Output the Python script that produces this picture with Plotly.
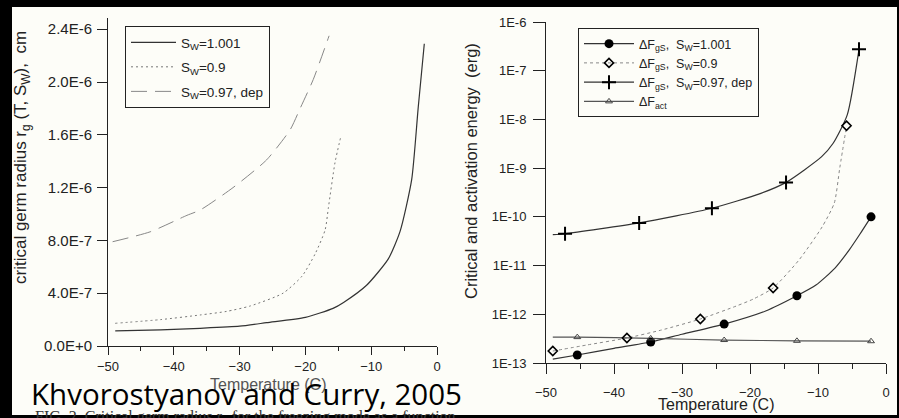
import plotly.graph_objects as go

W, H = 899, 418

# ---------------- Left panel data (critical germ radius, cm) ----------------
T_sw1001 = [-48.9, -42, -36, -30, -25.9, -20, -15.8, -14.2, -10.7, -7.4, -5.6, -3.85, -2.85, -1.93]
r_sw1001 = [1.14e-7, 1.22e-7, 1.34e-7, 1.5e-7, 1.77e-7, 2.17e-7, 2.85e-7, 3.3e-7, 4.6e-7, 6.6e-7,
            8.7e-7, 1.26e-6, 1.81e-6, 2.29e-6]

T_sw09 = [-48.9, -42, -36, -32, -28.4, -23.4, -20.5, -18.5, -17, -16.5, -15.5, -14.6]
r_sw09 = [1.72e-7, 2.0e-7, 2.35e-7, 2.62e-7, 3.03e-7, 4.0e-7, 5.3e-7, 7.0e-7, 8.8e-7, 1.05e-6,
          1.39e-6, 1.59e-6]

T_sw097 = [-49.3, -43.6, -38, -36, -31, -25.9, -22.3, -20.8, -18.8, -16.4]
r_sw097 = [7.9e-7, 8.65e-7, 9.9e-7, 1.03e-6, 1.2e-6, 1.41e-6, 1.64e-6, 1.8e-6, 2.02e-6, 2.35e-6]

left_yticks = [0, 4e-7, 8e-7, 1.2e-6, 1.6e-6, 2.0e-6, 2.4e-6]
left_yticktext = ["0.0E+0", "4.0E-7", "8.0E-7", "1.2E-6", "1.6E-6", "2.0E-6", "2.4E-6"]
x_ticks = [-50, -40, -30, -20, -10, 0]
x_minor = [-45, -35, -25, -15, -5]

# ---------------- Right panel data (energies, erg) ----------------
T_c1001 = [-49, -45.4, -40, -34.6, -30, -23.8, -17.7, -13.1, -10.3, -7.5, -5.4, -3.8, -2.2]
E_c1001 = [1.2e-13, 1.46e-13, 2.0e-13, 2.7e-13, 3.9e-13, 6.3e-13, 1.17e-12, 2.4e-12, 3.98e-12,
           8.9e-12, 2.1e-11, 4.5e-11, 1.0e-10]
Tm_c1001 = [-45.4, -34.6, -23.8, -13.1, -2.2]
Em_c1001 = [1.46e-13, 2.7e-13, 6.3e-13, 2.4e-12, 1.0e-10]

T_d09 = [-49, -44, -38.1, -33, -27.3, -22, -19.5, -16.6, -12.8, -9.4, -7.6, -6.8, -5.8]
E_d09 = [1.76e-13, 2.34e-13, 3.26e-13, 4.76e-13, 8.0e-13, 1.48e-12, 2.06e-12, 3.47e-12, 1.3e-11,
         6.2e-11, 1.93e-10, 1.01e-9, 7.4e-9]
Tm_d09 = [-49, -38.1, -27.3, -16.6, -5.8]
Em_d09 = [1.76e-13, 3.26e-13, 8.0e-13, 3.47e-12, 7.4e-9]

T_p097 = [-49, -47.2, -36.3, -25.6, -18.5, -14.7, -9.5, -7.8, -5.7, -3.97]
E_p097 = [4.3e-11, 4.5e-11, 7.5e-11, 1.5e-10, 3.0e-10, 5.1e-10, 1.7e-9, 3.2e-9, 1.24e-8, 2.75e-7]
Tm_p097 = [-47.2, -36.3, -25.6, -14.7, -3.97]
Em_p097 = [4.5e-11, 7.5e-11, 1.5e-10, 5.1e-10, 2.75e-7]

T_act = [-49, -45.4, -34.6, -23.8, -13.1, -2.2]
E_act = [3.4e-13, 3.4e-13, 3.2e-13, 2.96e-13, 2.85e-13, 2.8e-13]
Tm_act = [-45.4, -34.6, -23.8, -13.1, -2.2]
Em_act = [3.4e-13, 3.2e-13, 2.96e-13, 2.85e-13, 2.8e-13]

right_yticks = [1e-13, 1e-12, 1e-11, 1e-10, 1e-9, 1e-8, 1e-7, 1e-6]
right_yticktext = ["1E-13", "1E-12", "1E-11", "1E-10", "1E-9", "1E-8", "1E-7", "1E-6"]

# ---------------- helpers ----------------
def px(x):
    return x / W

def py(y):
    return 1 - y / H

INK = "#222222"
BG = "#FDFDF8"
FONT = "Liberation Sans, Arial, sans-serif"

fig = go.Figure()

# Left panel traces
left_specs = [
    (T_sw1001, r_sw1001, "S<sub>W</sub>=1.001", dict(color="#333333", width=1.2), "a"),
    (T_sw09, r_sw09, "S<sub>W</sub>=0.9", dict(color="#777777", width=1, dash="2px,3px"), "b"),
    (T_sw097, r_sw097, "S<sub>W</sub>=0.97, dep", dict(color="#888888", width=1, dash="16px,8px"), "c"),
]
for tx, ry, nm, ln, g in left_specs:
    fig.add_trace(go.Scatter(x=tx, y=ry, mode="lines", name=nm,
                             line=dict(shape="spline", smoothing=0.6, **ln), xaxis="x", yaxis="y",
                             legend="legend", legendgroup=g))

# Right panel: lines
line_specs = [
    (T_c1001, E_c1001, dict(color="#333333", width=1.2)),
    (T_d09, E_d09, dict(color="#888888", width=1, dash="3px,3px")),
    (T_p097, E_p097, dict(color="#333333", width=1.2)),
    (T_act, E_act, dict(color="#555555", width=1.2)),
]
for tx, ey, ln in line_specs:
    fig.add_trace(go.Scatter(x=tx, y=ey, mode="lines", line=dict(shape="spline", smoothing=0.6, **ln),
                             showlegend=False, xaxis="x2", yaxis="y2", hoverinfo="skip"))

marker_specs = [
    (Tm_c1001, Em_c1001, dict(symbol="circle", size=9, color="black"),
     dict(color="#333333", width=1.2), "ΔF<sub>gS</sub>,  S<sub>W</sub>=1.001"),
    (Tm_d09, Em_d09, dict(symbol="diamond-open", size=7, color="black", line=dict(width=1.6)),
     dict(color="#888888", width=1, dash="3px,3px"), "ΔF<sub>gS</sub>,  S<sub>W</sub>=0.9"),
    (Tm_p097, Em_p097, dict(symbol="cross-thin", size=10, color="black", line=dict(width=2, color="black")),
     dict(color="#333333", width=1.2), "ΔF<sub>gS</sub>,  S<sub>W</sub>=0.97, dep"),
    (Tm_act, Em_act, dict(symbol="triangle-up-open", size=6, color="#444444", line=dict(width=1)),
     dict(color="#555555", width=1.2), "ΔF<sub>act</sub>"),
]
for tx, ey, mk, ln, nm in marker_specs:
    fig.add_trace(go.Scatter(x=tx, y=ey, mode="markers", marker=mk, showlegend=False,
                             xaxis="x2", yaxis="y2"))
for tx, ey, mk, ln, nm in marker_specs:
    fig.add_trace(go.Scatter(x=[None], y=[None], mode="lines+markers", marker=mk, line=ln, name=nm,
                             xaxis="x2", yaxis="y2", legend="legend2"))

axis_common = dict(showline=True, linecolor=INK, linewidth=1, ticks="outside", tickcolor=INK,
                   tickwidth=1, showgrid=False, zeroline=False, mirror=False, automargin=False)

fig.update_layout(
    width=W, height=H,
    margin=dict(l=0, r=0, t=0, b=0, pad=0, autoexpand=False),
    paper_bgcolor="black",
    plot_bgcolor="rgba(0,0,0,0)",
    showlegend=True,
    font=dict(family=FONT, color=INK, size=13),
    xaxis=dict(domain=[px(108), px(437)], range=[-50, 0], anchor="y", tickmode="array",
               tickvals=x_ticks, ticklen=8, ticklabelstandoff=0,
               tickfont=dict(family=FONT, size=13, color=INK),
               minor=dict(tickvals=x_minor, ticklen=4, ticks="outside", tickcolor=INK, tickwidth=1),
               **axis_common),
    yaxis=dict(domain=[py(346), py(18)], range=[0, 2.485e-6], anchor="x", tickmode="array",
               tickvals=left_yticks, ticktext=left_yticktext, ticklen=10, ticklabelstandoff=2,
               tickfont=dict(family=FONT, size=15, color=INK), **axis_common),
    xaxis2=dict(domain=[px(546), px(886)], range=[-50, 0], anchor="y2", tickmode="array",
                tickvals=x_ticks, ticklen=10, ticklabelstandoff=7,
                tickfont=dict(family=FONT, size=13, color=INK),
                minor=dict(tickvals=x_minor, ticklen=5, ticks="outside", tickcolor=INK, tickwidth=1),
                **axis_common),
    yaxis2=dict(domain=[py(363), py(22)], type="log", range=[-13, -6], anchor="x2", tickmode="array",
                tickvals=right_yticks, ticktext=right_yticktext, ticklen=12, ticklabelstandoff=4,
                tickfont=dict(family=FONT, size=13, color=INK), **axis_common),
    legend=dict(x=px(125), y=py(26), xanchor="left", yanchor="top", bgcolor=BG,
                bordercolor=INK, borderwidth=1, traceorder="grouped", tracegroupgap=4,
                itemwidth=45, font=dict(family=FONT, size=13.5, color=INK)),
    legend2=dict(x=px(578), y=py(28), xanchor="left", yanchor="top", bgcolor=BG, itemwidth=50,
                 bordercolor=INK, borderwidth=1, tracegroupgap=0,
                 font=dict(family=FONT, size=12.5, color=INK)),
    shapes=[dict(type="rect", xref="paper", yref="paper", x0=px(12), x1=px(897), y0=py(415), y1=py(7),
                 fillcolor=BG, line=dict(width=0), layer="below")],
    annotations=[
        dict(text="critical germ radius r<sub>g</sub> (T, S<sub>W</sub>),  cm", textangle=-90,
             x=px(22), y=py(158), xref="paper", yref="paper", showarrow=False,
             xanchor="center", yanchor="middle", font=dict(family=FONT, size=17, color=INK)),
        dict(text="Critical and activation energy  (erg)", textangle=-90,
             x=px(471), y=py(171), xref="paper", yref="paper", showarrow=False,
             xanchor="center", yanchor="middle", font=dict(family=FONT, size=16.5, color=INK)),
        dict(text="Temperature (C)", x=px(716), y=py(404), xref="paper", yref="paper",
             showarrow=False, xanchor="center", yanchor="middle",
             font=dict(family=FONT, size=16, color=INK)),
        dict(text="Temperature (C)", x=px(268), y=py(384), xref="paper", yref="paper",
             showarrow=False, xanchor="center", yanchor="middle",
             font=dict(family=FONT, size=16, color="#555555")),
        dict(text="FIG. 2. Critical germ radius r<sub>g</sub> for the freezing mode as a function",
             x=px(33), y=py(406), xref="paper", yref="paper", showarrow=False,
             xanchor="left", yanchor="top",
             font=dict(family="Liberation Serif, serif", size=16, color="#333333")),
        dict(text="Khvorostyanov and Curry, 2005", x=px(29), y=py(393), xref="paper", yref="paper",
             showarrow=False, xanchor="left", yanchor="middle",
             font=dict(family="Open Sans, sans-serif", size=29.5, color="black")),
    ],
)

fig.write_html("out.html")
